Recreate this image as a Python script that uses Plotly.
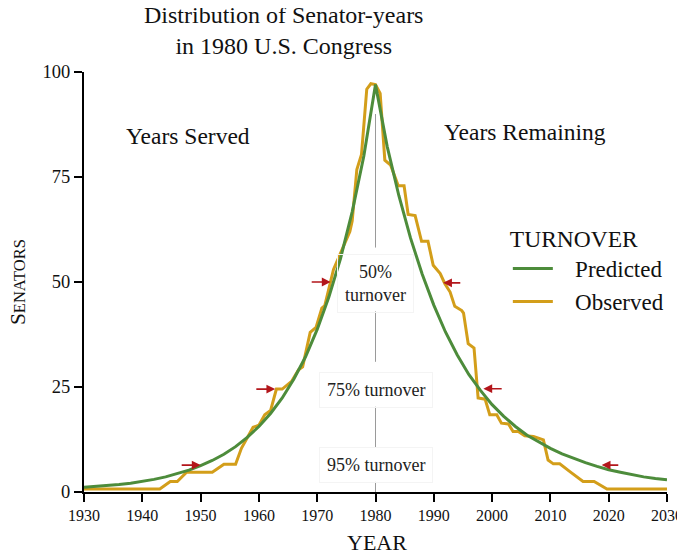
import plotly.graph_objects as go

# predicted senator-years (smooth curve), read every two years
pred_years = list(range(1930, 2031, 2))
pred_senators = [
    1.1, 1.3, 1.5, 1.8, 2.1, 2.5, 3.0, 3.6, 4.4, 5.2,
    6.3, 7.5, 9.0, 10.8, 13.0, 15.6, 18.7, 22.4, 26.9, 32.2,
    38.7, 46.4, 55.6, 66.7, 80.0, 97.0,
    82.3, 70.6, 60.5, 51.9, 44.5, 38.1, 32.7, 28.0, 24.2, 20.8,
    18.0, 15.6, 13.5, 11.9, 10.4, 9.1, 8.0, 7.0, 6.1, 5.3,
    4.7, 4.1, 3.6, 3.2, 2.9,
]

# observed senator-years (step-like line)
obs_years = [
    1930, 1943, 1944.8, 1946, 1947.6, 1952, 1954, 1956, 1957, 1959,
    1960, 1961, 1962, 1963, 1964, 1965.6, 1966.8, 1967.5, 1968.8, 1969.8,
    1970.8, 1971.3, 1972.8, 1974, 1975.6, 1976, 1976.8, 1977.6, 1978.5, 1979.2,
    1980, 1980.8, 1981.6, 1982.6, 1983.9, 1984.9, 1985.6, 1986.8, 1987.9, 1989,
    1989.9, 1991.1, 1991.9, 1992.8, 1993.6, 1994.8, 1995.1, 1995.9, 1996.9, 1997.6,
    1998.8, 1999.6, 2000.8, 2001.6, 2002.8, 2003.6, 2004.5, 2005.6, 2007.1, 2008.8,
    2009.6, 2010.5, 2011.6, 2013.4, 2015.6, 2017.5, 2019.7, 2030,
]
obs_senators = [
    0.7, 0.7, 2.5, 2.5, 4.7, 4.7, 6.6, 6.6, 10.4, 15.4,
    15.9, 18.4, 19.4, 24.5, 24.5, 26.3, 29.1, 29.8, 38.0, 39.2,
    43.8, 44.4, 53.0, 57.0, 62.0, 64.5, 76.8, 80.4, 95.9, 97.2,
    97.0, 94.9, 79.0, 77.8, 72.9, 72.9, 66.1, 65.8, 59.7, 59.7,
    54.0, 52.0, 49.6, 47.6, 44.2, 43.2, 42.6, 35.3, 34.3, 22.4,
    22.1, 18.4, 18.4, 16.4, 16.2, 14.4, 14.4, 13.4, 13.2, 12.4,
    7.6, 6.7, 6.7, 4.8, 2.5, 2.5, 0.7, 0.7,
]

turnover_labels = ["50%<br>turnover", "75% turnover", "95% turnover"]
turnover_y = [49.6, 24.4, 6.4]

# 1980 centre line, broken where the turnover labels sit
center_segments = [(90, 58.2), (43.0, 31.0), (20.3, 10.5), (2.4, 0)]

# red arrows marking where the turnover levels are reached
arrow_head_x = [1950, 1962.8, 1972.3, 1991.6, 1998.5, 2018.8]
arrow_tail_x = [1946.5, 1959.3, 1968.8, 1994.8, 2001.9, 2021.9]
arrow_y = [6.4, 24.5, 50, 49.8, 24.6, 6.4]

FONT = "Liberation Serif"
GREEN = "#4d8c3b"
GOLD = "#d39e1a"

fig = go.Figure()
# gold first so the green curve sits on top
fig.add_trace(
    go.Scatter(
        x=obs_years,
        y=obs_senators,
        mode="lines",
        name="   Observed",
        line=dict(color=GOLD, width=3),
        legendrank=2,
    )
)
fig.add_trace(
    go.Scatter(
        x=pred_years,
        y=pred_senators,
        mode="lines",
        name="   Predicted",
        line=dict(color=GREEN, width=3),
        legendrank=1,
    )
)

for top, bottom in center_segments:
    fig.add_shape(
        type="line", x0=1980, x1=1980, y0=bottom, y1=top,
        line=dict(color="#9a9a9a", width=1), layer="below",
    )

annotations = []
for txt, yy in zip(turnover_labels, turnover_y):
    annotations.append(
        dict(
            x=1980, y=yy, text=txt, showarrow=False,
            font=dict(family=FONT, size=18, color="#222"),
            bordercolor="#f4f4f4", borderpad=7,
        )
    )

for hx, tx, yy in zip(arrow_head_x, arrow_tail_x, arrow_y):
    annotations.append(
        dict(
            x=hx, y=yy, ax=tx, ay=yy, axref="x", ayref="y",
            text="", showarrow=True, arrowhead=2, arrowsize=1.1,
            arrowwidth=1.6, arrowcolor="#b3161b",
        )
    )

annotations += [
    dict(
        x=1947.9, y=84.8, text="Years Served", showarrow=False,
        font=dict(family=FONT, size=23.5, color="#111"),
    ),
    dict(
        x=2005.6, y=85.7, text="Years Remaining", showarrow=False,
        font=dict(family=FONT, size=23.5, color="#111"),
    ),
    dict(
        xref="paper", yref="paper", x=0.343, y=1.098,
        text="Distribution of Senator-years<br>in 1980 U.S. Congress",
        showarrow=False, align="center", xanchor="center", yanchor="middle",
        font=dict(family=FONT, size=24, color="#111"),
    ),
    dict(
        xref="paper", yref="paper", x=-0.113, y=0.5,
        text="S<span style='font-size:16.5px'>ENATORS</span>",
        textangle=-90, showarrow=False, xanchor="center", yanchor="middle",
        font=dict(family=FONT, size=21.5, color="#111"),
    ),
    dict(
        xref="paper", yref="paper", x=0.503, y=-0.121,
        text="YEAR", showarrow=False, xanchor="center", yanchor="middle",
        font=dict(family=FONT, size=22, color="#111"),
    ),
]

# the page body adds an 8px offset, so the figure is 8px smaller
fig.update_layout(
    width=677,
    height=547,
    margin=dict(l=76, r=18, t=64, b=63),
    paper_bgcolor="white",
    plot_bgcolor="white",
    font=dict(family=FONT, color="#111"),
    annotations=annotations,
    showlegend=True,
    legend=dict(
        title=dict(text="TURNOVER", font=dict(family=FONT, size=23.5)),
        font=dict(family=FONT, size=23),
        x=0.727, y=0.656, xanchor="left", yanchor="top",
        bgcolor="rgba(0,0,0,0)",
        itemwidth=40,
    ),
    xaxis=dict(
        range=[1930, 2030],
        tickmode="array",
        tickvals=list(range(1930, 2031, 10)),
        ticks="outside", ticklen=8, tickwidth=2, tickcolor="black",
        showline=True, linecolor="black", linewidth=2,
        showgrid=False, zeroline=False, automargin=False,
        tickfont=dict(family=FONT, size=16, color="#111"),
    ),
    yaxis=dict(
        range=[0, 100],
        tickmode="array",
        tickvals=[0, 25, 50, 75, 100],
        ticks="outside", ticklen=8, tickwidth=2, tickcolor="black",
        showline=True, linecolor="black", linewidth=2,
        showgrid=False, zeroline=False, automargin=False,
        tickfont=dict(family=FONT, size=18.5, color="#111"),
    ),
)

fig.write_html("out.html")
